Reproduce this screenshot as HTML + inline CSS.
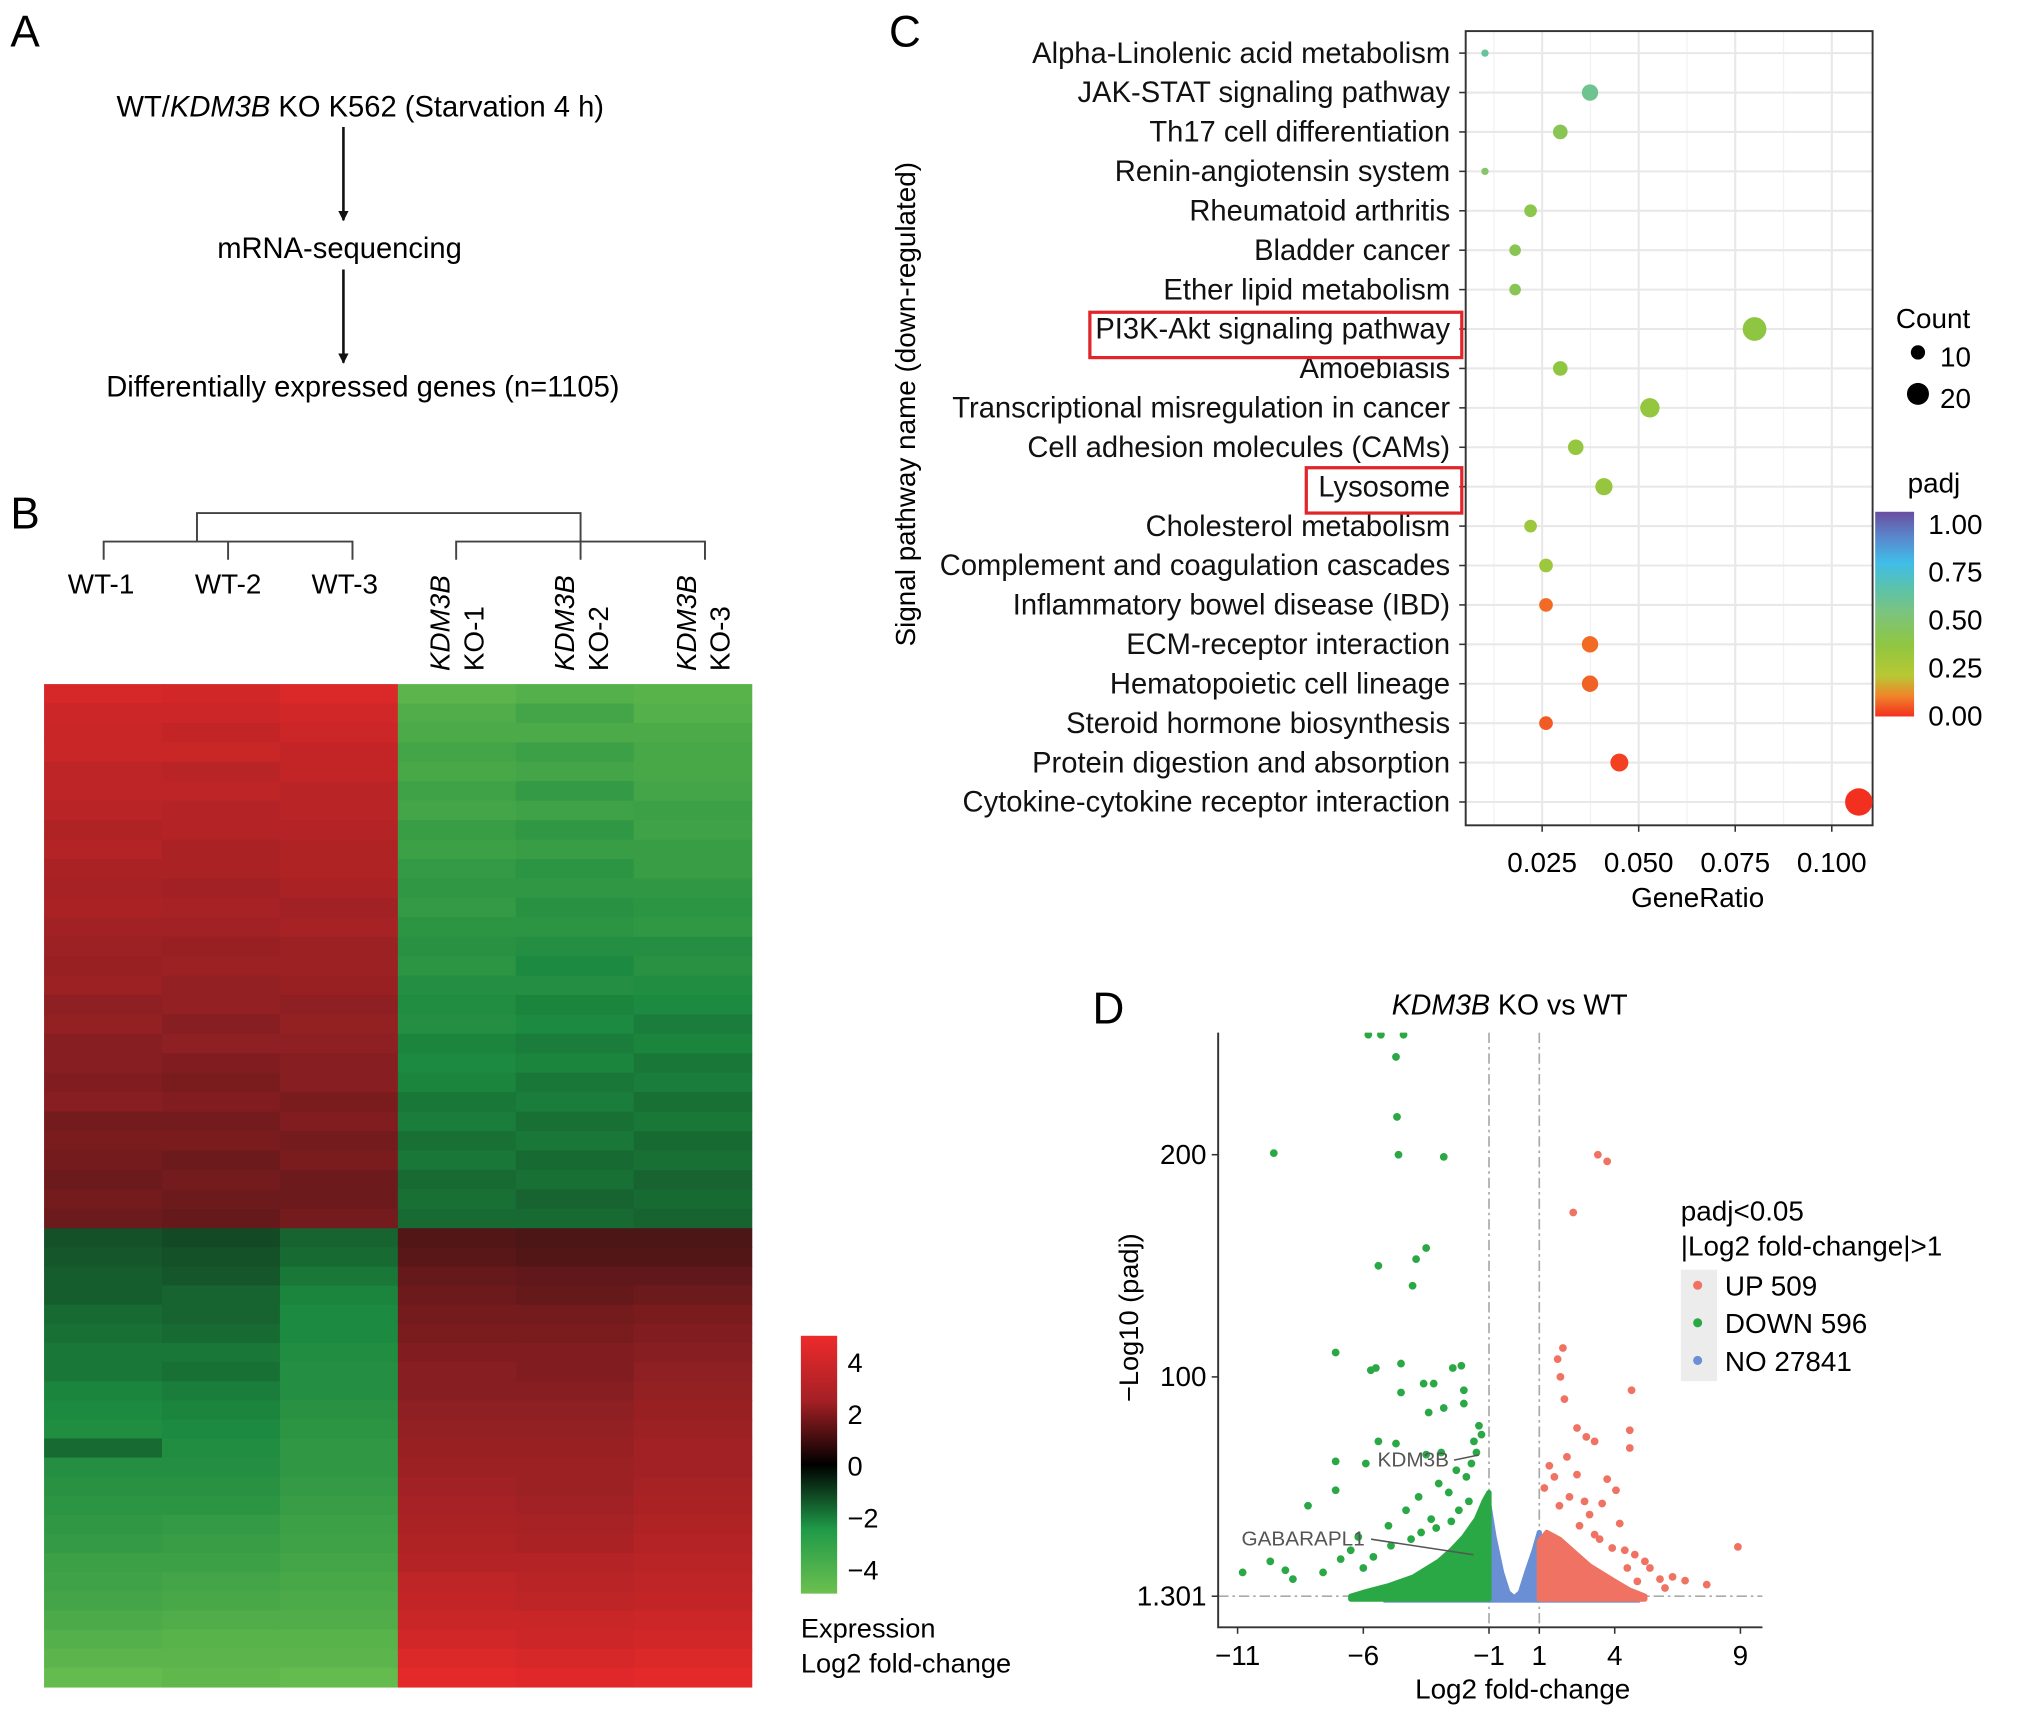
<!DOCTYPE html>
<html><head><meta charset="utf-8"><style>
html,body{margin:0;padding:0;background:#fff;}
svg{display:block;font-family:"Liberation Sans",Arial,sans-serif;}
</style></head><body>
<svg id="fig" width="2032" height="1718" viewBox="0 0 1568 1326" preserveAspectRatio="none" xmlns="http://www.w3.org/2000/svg">
<defs>
<marker id="ah" viewBox="0 0 10 10" refX="9" refY="5" markerWidth="8" markerHeight="10" orient="auto" markerUnits="userSpaceOnUse"><path d="M0,0 L10,5 L0,10 z" fill="#111"/></marker>
<linearGradient id="hmgrad" x1="0" y1="1" x2="0" y2="0">
<stop offset="0" stop-color="#6cc04f"/><stop offset="0.25" stop-color="#1f9a48"/><stop offset="0.5" stop-color="#000"/><stop offset="0.75" stop-color="#a52025"/><stop offset="1" stop-color="#ee2a2b"/></linearGradient>
<linearGradient id="padjgrad" x1="0" y1="1" x2="0" y2="0">
<stop offset="0" stop-color="#f32f1f"/><stop offset="0.1" stop-color="#f0842a"/><stop offset="0.2" stop-color="#b8c834"/><stop offset="0.35" stop-color="#8fc641"/><stop offset="0.5" stop-color="#7dc47c"/><stop offset="0.62" stop-color="#5cc2a8"/><stop offset="0.75" stop-color="#40bde8"/><stop offset="0.88" stop-color="#5a86cc"/><stop offset="1" stop-color="#6a4ea0"/></linearGradient>
</defs>

<!-- Panel A -->
<g>
<text x="8" y="36" font-size="34">A</text>
<text x="278" y="90" font-size="22.5" text-anchor="middle">WT/<tspan font-style="italic">KDM3B</tspan> KO K562 (Starvation 4 h)</text>
<line x1="265" y1="98" x2="265" y2="170" stroke="#111" stroke-width="2" marker-end="url(#ah)"/>
<text x="262" y="199" font-size="22.5" text-anchor="middle">mRNA-sequencing</text>
<line x1="265" y1="208" x2="265" y2="280" stroke="#111" stroke-width="2" marker-end="url(#ah)"/>
<text x="280" y="306" font-size="22.5" text-anchor="middle">Differentially expressed genes (n=1105)</text>
</g>

<!-- Panel B -->
<g>
<text x="8" y="408" font-size="34">B</text>
<g stroke="#444" stroke-width="1.5" fill="none">
<path d="M80,432 V418 H272 V432 M176,418 V432 M152,418 V396 H448 V432 M352,432 V418 H544 V432"/>
</g>
<g font-size="21.5">
<text x="78" y="458" text-anchor="middle">WT-1</text>
<text x="176" y="458" text-anchor="middle">WT-2</text>
<text x="266" y="458" text-anchor="middle">WT-3</text>
<g transform="translate(347,518) rotate(-90)"><text x="0" y="0" font-style="italic">KDM3B</text></g>
<g transform="translate(373,518) rotate(-90)"><text x="0" y="0">KO-1</text></g>
<g transform="translate(443,518) rotate(-90)"><text x="0" y="0" font-style="italic">KDM3B</text></g>
<g transform="translate(469,518) rotate(-90)"><text x="0" y="0">KO-2</text></g>
<g transform="translate(537,518) rotate(-90)"><text x="0" y="0" font-style="italic">KDM3B</text></g>
<g transform="translate(563,518) rotate(-90)"><text x="0" y="0">KO-3</text></g>
</g>
<g id="heatmap"></g>
<rect x="618" y="1031" width="28" height="199" fill="url(#hmgrad)"/>
<g font-size="21">
<text x="654" y="1059">4</text><text x="654" y="1099">2</text><text x="654" y="1139">0</text><text x="654" y="1179">−2</text><text x="654" y="1219">−4</text>
<text x="618" y="1264">Expression</text><text x="618" y="1291">Log2 fold-change</text>
</g>
</g>

<!-- Panel C -->
<g>
<text x="686" y="36" font-size="34">C</text>
<g id="dotplot"></g>
<text transform="translate(706,312) rotate(-90)" font-size="21.5" text-anchor="middle">Signal pathway name (down-regulated)</text>
<text x="1310" y="700" font-size="21.5" text-anchor="middle">GeneRatio</text>
<rect x="841" y="241" width="287" height="35" fill="none" stroke="#e0262b" stroke-width="2.5"/>
<rect x="1008" y="361" width="120" height="35" fill="none" stroke="#e0262b" stroke-width="2.5"/>
<g font-size="21.5">
<text x="1463" y="253">Count</text>
<circle cx="1480" cy="272" r="5.5" fill="#000"/><text x="1497" y="283">10</text>
<circle cx="1480" cy="304" r="8.5" fill="#000"/><text x="1497" y="315">20</text>
</g>
<g font-size="21.5">
<text x="1472" y="380">padj</text>
<rect x="1447" y="395" width="30" height="158" fill="url(#padjgrad)"/>
<text x="1488" y="412">1.00</text><text x="1488" y="449">0.75</text><text x="1488" y="486">0.50</text><text x="1488" y="523">0.25</text><text x="1488" y="560">0.00</text>
</g>
</g>

<!-- Panel D -->
<g>
<text x="843" y="790" font-size="34">D</text>
<text x="1165" y="783" font-size="22" text-anchor="middle"><tspan font-style="italic">KDM3B</tspan> KO vs WT</text>
<g id="volcano"></g>
<text transform="translate(878,1017) rotate(-90)" font-size="21" text-anchor="middle">−Log10 (padj)</text>
<text x="1175" y="1311" font-size="21.5" text-anchor="middle">Log2 fold-change</text>
<g>
<text x="1297" y="942" font-size="21.5">padj&lt;0.05</text>
<text x="1297" y="969" font-size="21.5">|Log2 fold-change|&gt;1</text>
<rect x="1297" y="980" width="28" height="86" fill="#ececec"/>
<circle cx="1310" cy="992" r="3.5" fill="#f07263"/><circle cx="1310" cy="1021" r="3.5" fill="#2aa845"/><circle cx="1310" cy="1050" r="3.5" fill="#6a8fd4"/>
<text x="1331" y="1000" font-size="21.5">UP 509</text><text x="1331" y="1029" font-size="21.5">DOWN 596</text><text x="1331" y="1058" font-size="21.5">NO 27841</text>
</g>
</g>
</svg>
<script>
// ---------- Heatmap data ----------
const hmTopWT1=[3.5,3.3,3.2,3.2,3.0,3.0,2.9,2.7,2.8,2.6,2.5,2.6,2.4,2.3,2.2,2.3,2.0,2.1,1.9,1.9,1.8,1.9,1.6,1.7,1.6,1.5,1.6,1.5];
const hmTopWT2=[3.4,3.3,3.1,3.2,2.9,3.0,2.8,2.8,2.6,2.6,2.4,2.5,2.4,2.2,2.3,2.1,2.1,1.9,2.0,1.8,1.7,1.8,1.6,1.7,1.5,1.6,1.5,1.4];
const hmTopWT3=[3.6,3.4,3.3,3.1,3.1,2.9,2.9,2.8,2.7,2.7,2.6,2.4,2.5,2.3,2.3,2.2,2.0,2.1,2.0,1.9,1.9,1.7,1.8,1.6,1.7,1.5,1.5,1.6];
const hmTopKO1=[-3.6,-3.3,-3.2,-3.0,-3.1,-2.9,-3.0,-2.7,-2.8,-2.6,-2.5,-2.6,-2.4,-2.3,-2.4,-2.2,-2.1,-2.2,-1.9,-2.0,-1.9,-1.7,-1.8,-1.6,-1.7,-1.5,-1.6,-1.5];
const hmTopKO2=[-3.4,-3.0,-3.2,-2.8,-3.0,-2.6,-2.9,-2.5,-2.7,-2.4,-2.5,-2.3,-2.4,-2.2,-2.0,-2.2,-1.9,-2.0,-1.8,-1.9,-1.7,-1.8,-1.6,-1.7,-1.5,-1.6,-1.4,-1.5];
const hmTopKO3=[-3.5,-3.4,-3.2,-3.1,-3.1,-3.0,-2.8,-2.9,-2.7,-2.7,-2.5,-2.4,-2.5,-2.2,-2.3,-2.1,-2.0,-1.8,-1.9,-1.7,-1.8,-1.6,-1.7,-1.5,-1.6,-1.4,-1.5,-1.4];
const hmBotWT1=[-1.1,-1.2,-1.3,-1.3,-1.5,-1.6,-1.7,-1.7,-1.9,-2.0,-2.1,-1.5,-2.2,-2.3,-2.4,-2.5,-2.6,-2.8,-2.9,-3.0,-3.2,-3.4,-3.6,-3.8];
const hmBotWT2=[-1.0,-1.1,-1.2,-1.4,-1.4,-1.5,-1.7,-1.6,-1.8,-1.9,-2.0,-2.1,-2.2,-2.3,-2.4,-2.6,-2.7,-2.8,-3.0,-3.1,-3.3,-3.5,-3.6,-3.7];
const hmBotWT3=[-1.4,-1.5,-1.7,-1.9,-2.0,-2.0,-2.1,-2.2,-2.2,-2.3,-2.4,-2.5,-2.5,-2.6,-2.7,-2.8,-2.9,-3.0,-3.1,-3.2,-3.3,-3.5,-3.6,-3.8];
const hmBotKO1=[1.1,1.2,1.4,1.5,1.6,1.7,1.8,1.9,1.9,2.0,2.1,2.2,2.3,2.4,2.5,2.6,2.7,2.8,3.0,3.1,3.2,3.4,3.6,3.8];
const hmBotKO2=[1.0,1.1,1.3,1.4,1.6,1.7,1.8,1.8,1.9,2.0,2.1,2.2,2.3,2.3,2.4,2.5,2.6,2.8,2.9,3.0,3.2,3.3,3.5,3.7];
const hmBotKO3=[1.0,1.1,1.3,1.5,1.7,1.8,1.9,2.0,2.1,2.2,2.3,2.4,2.4,2.5,2.6,2.7,2.8,2.9,3.0,3.1,3.3,3.4,3.6,3.8];

// ---------- Dot plot data ----------
const pathways=["Alpha-Linolenic acid metabolism","JAK-STAT signaling pathway","Th17 cell differentiation","Renin-angiotensin system","Rheumatoid arthritis","Bladder cancer","Ether lipid metabolism","PI3K-Akt signaling pathway","Amoebiasis","Transcriptional misregulation in cancer","Cell adhesion molecules (CAMs)","Lysosome","Cholesterol metabolism","Complement and coagulation cascades","Inflammatory bowel disease (IBD)","ECM-receptor interaction","Hematopoietic cell lineage","Steroid hormone biosynthesis","Protein digestion and absorption","Cytokine-cytokine receptor interaction"];
const geneRatio=[0.0102,0.0374,0.0297,0.0102,0.022,0.018,0.018,0.080,0.0297,0.0529,0.0337,0.041,0.022,0.026,0.026,0.0374,0.0374,0.026,0.045,0.107];
const geneCount=[2,10,8,2,6,5,5,21,8,14,9,11,6,7,7,10,10,7,12,28];
const padj=[0.58,0.55,0.40,0.45,0.38,0.40,0.40,0.35,0.35,0.33,0.33,0.32,0.30,0.30,0.07,0.07,0.06,0.05,0.02,0.0];
const ratioTicks=[0.025,0.050,0.075,0.100];
const ratioTickLabels=["0.025","0.050","0.075","0.100"];

// ---------- Volcano data ----------
const downFC=[-9.56,-4.6,-2.8,-4.66,-4.7,-5.8,-5.3,-4.4,-3.5,-3.9,-5.4,-4.04,-7.1,-5.5,-5.7,-4.5,-2.44,-2.1,-3.6,-3.2,-4.5,-2.0,-2.0,-3.4,-2.8,-7.1,-7.1,-8.2,-9.7,-10.8,-5.9,-5.4,-4.7,-3.5,-2.9,-1.6,-1.7,-1.4,-1.3,-2.3,-3.0,-3.8,-4.3,-6.5,-6.2,-5.0,-2.6,-1.9,-1.5,-8.8,-9.1,-7.6,-6.9,-3.3,-2.2,-4.9,-3.7,-2.5,-1.8,-6.0,-5.6,-4.1,-3.1];
const downP=[200.7,200,199,217,244,254,254,254,158,153,150,141,111,104,103,106,104,105,97,97,93,94,88,84,86,62,49,42,17,12,61,71,70,65,66,71,61,78,74,58,52,46,40,22,28,33,48,55,66,9,13,12,18,36,40,24,30,35,44,14,19,27,32];
const upFC=[3.33,3.7,2.35,1.94,1.73,1.84,2.0,2.5,4.67,4.6,4.6,2.87,3.2,8.9,7.66,6.8,5.4,6.3,2.1,2.5,3.7,4.05,3.5,4.2,3.2,4.8,3.9,5.2,4.5,4.9,1.4,1.6,2.8,3.0,5.8,6.0,1.2,2.2,2.6,3.4,4.4,1.8];
const upP=[200,197,174,113,108,100,90,77,94,76,68,73,71,23.5,6.5,8.3,14,10,64,56,54,49,43,34,29,20,23,17,14,8,60,55,44,38,9,5,50,46,33,27,22,42];
// envelope of the dense (overplotted) clouds: [log2FC, upper -log10 padj]
const downCloudFC=[-6.5,-6,-5,-4,-3,-2.5,-2,-1.5,-1.2,-1];
const downCloudP=[1.3,3,6,10,17,22,28,36,44,48];
const upCloudFC=[1,1.3,1.8,2.5,3,4,4.6,5.2];
const upCloudP=[26,30,27,20,15,8,4,1.3];
const nsCloudFC=[-1,-0.8,-0.5,-0.25,0,0.25,0.5,0.8,1];
const nsCloudP=[42,28,12,3,0.5,3,12,22,30];
const fcTicks=[-11,-6,-1,1,4,9];
const pTicks=[1.301,100,200];
const pTickLabels=["1.301","100","200"];

const NS="http://www.w3.org/2000/svg";
function mk(tag,attrs,parent){const e=document.createElementNS(NS,tag);for(const k in attrs)e.setAttribute(k,attrs[k]);parent.appendChild(e);return e;}

// ---- heatmap ----
function lerp(a,b,t){return a+(b-a)*t;}
function hex(c){return [parseInt(c.slice(1,3),16),parseInt(c.slice(3,5),16),parseInt(c.slice(5,7),16)];}
const hmStops=[[-4,"#6cc04f"],[-2,"#1c8a40"],[0,"#0a0a0a"],[2,"#8e1f22"],[4,"#ee2a2b"]];
function hmColor(v){v=Math.max(-4,Math.min(4,v));for(let i=0;i<hmStops.length-1;i++){const [a,ca]=hmStops[i],[b,cb]=hmStops[i+1];if(v<=b){const t=(v-a)/(b-a);const A=hex(ca),B=hex(cb);return `rgb(${Math.round(lerp(A[0],B[0],t))},${Math.round(lerp(A[1],B[1],t))},${Math.round(lerp(A[2],B[2],t))})`;}}return hmStops[4][1];}
(function(){
  const g=document.getElementById('heatmap');
  const X0=34,X1=580,Y0=528,YS=948,Y1=1302;
  const colW=(X1-X0)/6;
  const top=[hmTopWT1,hmTopWT2,hmTopWT3,hmTopKO1,hmTopKO2,hmTopKO3];
  const bot=[hmBotWT1,hmBotWT2,hmBotWT3,hmBotKO1,hmBotKO2,hmBotKO3];
  top.forEach((col,ci)=>{const h=(YS-Y0)/col.length;col.forEach((v,ri)=>{
    const r=mk('rect',{x:X0+ci*colW,y:Y0+ri*h,width:colW+0.5,height:h+0.5,fill:hmColor(v)},g);
    
    });});
  bot.forEach((col,ci)=>{const h=(Y1-YS)/col.length;col.forEach((v,ri)=>{
    const r=mk('rect',{x:X0+ci*colW,y:YS+ri*h,width:colW+0.5,height:h+0.5,fill:hmColor(v)},g);
    
    });});
})();

// ---- dot plot ----
const padjStops=[[0,"#f32f1f"],[0.1,"#f0842a"],[0.2,"#b8c834"],[0.35,"#8fc641"],[0.5,"#7dc47c"],[0.62,"#5cc2a8"],[0.75,"#40bde8"],[0.88,"#5a86cc"],[1,"#6a4ea0"]];
function padjColor(v){for(let i=0;i<padjStops.length-1;i++){const [a,ca]=padjStops[i],[b,cb]=padjStops[i+1];if(v<=b){const t=(v-a)/(b-a);const A=hex(ca),B=hex(cb);return `rgb(${Math.round(lerp(A[0],B[0],t))},${Math.round(lerp(A[1],B[1],t))},${Math.round(lerp(A[2],B[2],t))})`;}}return padjStops[8][1];}
(function(){
  const g=document.getElementById('dotplot');
  const L=1131,R=1445,T=24,B=637;
  const xs=v=>1190+(v-0.025)*2980;
  const ys=i=>41+i*(619-41)/(pathways.length-1);
  mk('rect',{x:L,y:T,width:R-L,height:B-T,fill:'#fff'},g);
  for(let k=0;k<ratioTicks.length+1;k++){const v=0.0125+k*0.025;const x=xs(v);if(x>L&&x<R)mk('line',{x1:x,x2:x,y1:T,y2:B,stroke:'#f2f2f2','stroke-width':1},g);}
  ratioTicks.forEach(v=>mk('line',{x1:xs(v),x2:xs(v),y1:T,y2:B,stroke:'#e8e8e8','stroke-width':1.6},g));
  pathways.forEach((p,i)=>mk('line',{x1:L,x2:R,y1:ys(i),y2:ys(i),stroke:'#e8e8e8','stroke-width':1.6},g));
  mk('rect',{x:L,y:T,width:R-L,height:B-T,fill:'none',stroke:'#333','stroke-width':1.5},g);
  pathways.forEach((p,i)=>{
    mk('line',{x1:L-5,x2:L,y1:ys(i),y2:ys(i),stroke:'#333','stroke-width':1.2},g);
    const t=mk('text',{x:1119,y:ys(i)+7.5,'font-size':22.5,'text-anchor':'end',fill:'#111'},g);t.textContent=p;
    
    
  });
  ratioTicks.forEach((v,i)=>{
    mk('line',{x1:xs(v),x2:xs(v),y1:B,y2:B+5,stroke:'#333','stroke-width':1.2},g);
    const t=mk('text',{x:xs(v),y:673,'font-size':21.5,'text-anchor':'middle'},g);t.textContent=ratioTickLabels[i];
    
    
  });
  pathways.forEach((p,i)=>{
    const c=mk('circle',{cx:xs(geneRatio[i]),cy:ys(i),r:2*Math.sqrt(geneCount[i]),fill:padjColor(padj[i])},g);
    
    
  });
})();

// ---- volcano ----
(function(){
  const g=document.getElementById('volcano');
  const xs=v=>1149+(v+1)*19.4;
  const ys=v=>1232-(v-1.301)*1.715;
  const L=940,B=1256,T=797,R=1360;
  const clip=mk('clipPath',{id:'vclip'},g);mk('rect',{x:L,y:T,width:R-L,height:B-T},clip);
  const pg=mk('g',{'clip-path':'url(#vclip)'},g);
  mk('line',{x1:xs(-1),x2:xs(-1),y1:T,y2:B,stroke:'#aaa','stroke-width':1.3,'stroke-dasharray':'8 3 2 3'},pg);
  mk('line',{x1:xs(1),x2:xs(1),y1:T,y2:B,stroke:'#aaa','stroke-width':1.3,'stroke-dasharray':'8 3 2 3'},pg);
  mk('line',{x1:L,x2:R,y1:ys(1.301),y2:ys(1.301),stroke:'#aaa','stroke-width':1.3,'stroke-dasharray':'8 3 2 3'},pg);
  function cloud(fx,fy,col,name){
    let d='M'+xs(fx[0])+','+ys(0);
    fx.forEach((v,i)=>{d+=' L'+xs(v)+','+ys(fy[i]);});
    d+=' L'+xs(fx[fx.length-1])+','+ys(0)+' Z';
    const p=mk('path',{d:d,fill:col,stroke:col,'stroke-width':4,'stroke-linejoin':'round'},pg);
    
    
  }
  const base=mk('rect',{x:xs(-5.2),y:ys(1.301)+1,width:xs(5)-xs(-5.2),height:4,fill:'#6a8fd4'},pg);
  
  
  cloud(nsCloudFC,nsCloudP,'#6a8fd4','ns-cloud');
  cloud(downCloudFC,downCloudP,'#2aa845','down-cloud');
  cloud(upCloudFC,upCloudP,'#f07263','up-cloud');
  downFC.forEach((v,i)=>{const c=mk('circle',{cx:xs(v),cy:ys(Math.min(downP[i],254)),r:3,fill:'#2aa845'},pg);
    
    });
  upFC.forEach((v,i)=>{const c=mk('circle',{cx:xs(v),cy:ys(upP[i]),r:3,fill:'#f07263'},pg);
    
    });
  mk('path',{d:`M${L},${T} V${B} H${R}`,fill:'none',stroke:'#333','stroke-width':1.5},g);
  fcTicks.forEach(v=>{mk('line',{x1:xs(v),x2:xs(v),y1:B,y2:B+5,stroke:'#333','stroke-width':1.2},g);
    const t=mk('text',{x:xs(v),y:1285,'font-size':21.5,'text-anchor':'middle'},g);t.textContent=(v<0?'−'+Math.abs(v):String(v));
    
    });
  pTicks.forEach((v,i)=>{mk('line',{x1:L-5,x2:L,y1:ys(v),y2:ys(v),stroke:'#333','stroke-width':1.2},g);
    const t=mk('text',{x:931,y:ys(v)+7,'font-size':21.5,'text-anchor':'end'},g);t.textContent=pTickLabels[i];
    
    });
  const a1=mk('text',{x:1063,y:1132,'font-size':16,fill:'#555'},g);a1.textContent='KDM3B';
  
  
  mk('line',{x1:1122,y1:1127,x2:1141,y2:1123,stroke:'#555','stroke-width':1.2},g);
  const a2=mk('text',{x:958,y:1193,'font-size':16,fill:'#555'},g);a2.textContent='GABARAPL1';
  
  
  mk('line',{x1:1058,y1:1188,x2:1137,y2:1200,stroke:'#555','stroke-width':1.2},g);
})();
</script>
</body></html>
